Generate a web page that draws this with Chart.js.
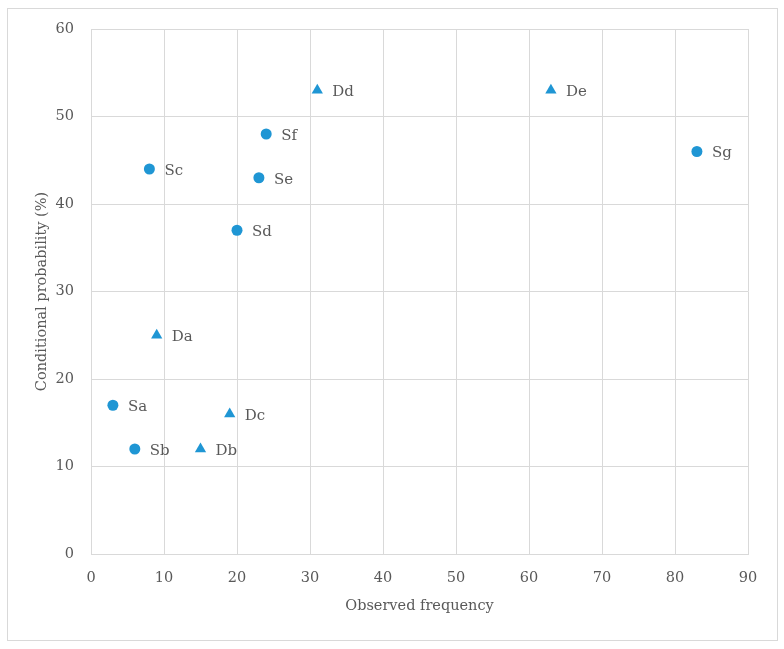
<!DOCTYPE html>
<html>
<head>
<meta charset="utf-8">
<script src="https://cdn.jsdelivr.net/npm/chart.js@4.4.0/dist/chart.umd.min.js"></script>
<style>
  html, body { margin: 0; padding: 0; background: #fff; }
  #wrap { position: relative; width: 784px; height: 649px; }
  #frame { position: absolute; left: 7px; top: 8px; width: 769px; height: 631px; border: 1px solid #d9d9d9; pointer-events: none; }
  canvas { position: absolute; left: 0; top: 0; }
</style>
</head>
<body>
<div id="wrap">
  <canvas id="chart" width="784" height="649"></canvas>
  <div id="frame"></div>
</div>
<script>
// ─── Data ────────────────────────────────────────
const sLabels = ["Sa", "Sb", "Sc", "Sd", "Se", "Sf", "Sg"];
const sFreq   = [3, 6, 8, 20, 23, 24, 83];
const sProb   = [17, 12, 44, 37, 43, 48, 46];

const dLabels = ["Da", "Db", "Dc", "Dd", "De"];
const dFreq   = [9, 15, 19, 31, 63];
const dProb   = [25, 12, 16, 53, 53];

const BLUE  = "#1f96d4";
const TEXT  = "#595959";
const GRID  = "#d9d9d9";
const FONT  = "'DejaVu Serif', serif";
const SIZE  = 14.5;

const toPoints = (xs, ys) => xs.map((x, i) => ({ x, y: ys[i] }));

// draws each point's name to the right of the marker
const pointNames = {
    id: "pointNames",
    afterDatasetsDraw(chart) {
        const ctx = chart.ctx;
        ctx.save();
        ctx.font = "15px " + FONT;
        ctx.fillStyle = TEXT;
        ctx.textBaseline = "middle";
        ctx.textAlign = "left";
        chart.data.datasets.forEach((ds, di) => {
            chart.getDatasetMeta(di).data.forEach((el, i) => {
                ctx.fillText(ds.names[i], el.x + 15, el.y + 2);
            });
        });
        ctx.restore();
    }
};

new Chart(document.getElementById("chart"), {
    type: "scatter",
    data: {
        datasets: [
            { label: "S", names: sLabels, data: toPoints(sFreq, sProb), pointStyle: "circle", pointRadius: 5.5, pointHoverRadius: 5.5, backgroundColor: BLUE, borderColor: BLUE, borderWidth: 0 },
            { label: "D", names: dLabels, data: toPoints(dFreq, dProb), pointStyle: "triangle", pointRadius: 6.5, pointHoverRadius: 6.5, backgroundColor: BLUE, borderColor: BLUE, borderWidth: 0 }
        ]
    },
    options: {
        responsive: false,
        animation: false,
        layout: { padding: { top: 29, right: 36, bottom: 0, left: 0 } },
        plugins: { legend: { display: false }, tooltip: { enabled: false } },
        scales: {
            x: {
                type: "linear", min: 0, max: 90,
                afterFit: s => { s.height = 95; },
                border: { color: GRID },
                grid: { color: GRID, drawTicks: false },
                ticks: { stepSize: 10, padding: 16, color: TEXT, font: { family: FONT, size: SIZE } },
                title: { display: true, text: "Observed frequency", color: TEXT, font: { family: FONT, size: SIZE }, padding: { top: 0, bottom: 34 } }
            },
            y: {
                type: "linear", min: 0, max: 60,
                afterFit: s => { s.width = 91; },
                border: { color: GRID },
                grid: { color: GRID, drawTicks: false },
                ticks: { stepSize: 10, padding: 17, color: TEXT, font: { family: FONT, size: SIZE } },
                title: { display: true, text: "Conditional probability (%)", color: TEXT, font: { family: FONT, size: SIZE }, padding: { top: 34, bottom: 0 } }
            }
        }
    },
    plugins: [pointNames]
});
</script>
</body>
</html>
